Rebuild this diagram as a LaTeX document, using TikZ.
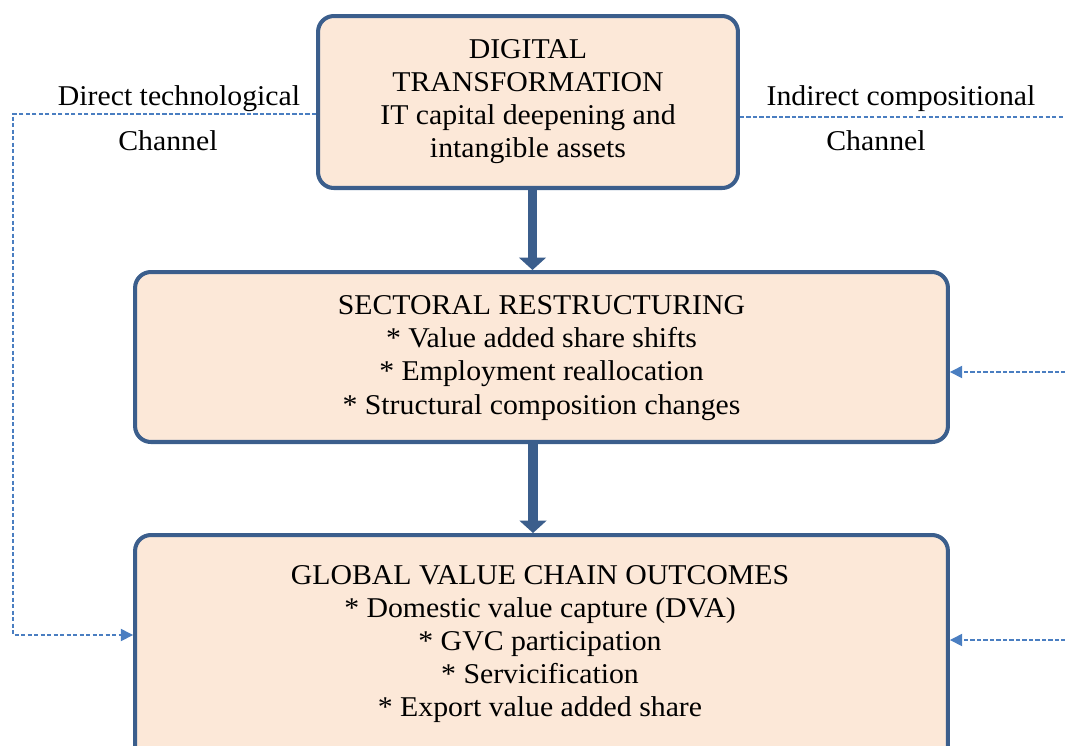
\documentclass[tikz,border=0pt]{standalone}
\usepackage{fontspec}
\setmainfont[FakeStretch=1.04]{Liberation Serif}
\usetikzlibrary{arrows.meta}
\definecolor{boxline}{RGB}{59,94,140}
\definecolor{boxfill}{RGB}{252,232,216}
\definecolor{chanblue}{RGB}{74,126,193}
\begin{document}
\begin{tikzpicture}[x=0.02cm, y=-0.02cm, every node/.style={font=\fontsize{16.3}{18.8}\selectfont},
  blk/.style={draw=boxline,fill=boxfill,line width=2.3pt,rounded corners=9pt,align=center,inner sep=0pt},
  flow/.style={draw=boxline,line width=5.4pt,-{Triangle[width=15pt,length=7pt]}},
  chan/.style={draw=chanblue,line width=0.8pt,dash pattern=on 2.4pt off 1.3pt}]
\useasboundingbox (0,0) rectangle (1065,745);
\clip (0,0) rectangle (1065,745);
% Boxes
\node[blk,minimum width=8.4cm,minimum height=3.44cm] (dt) at (528,102)
  {DIGITAL\\TRANSFORMATION\\IT capital deepening and\\intangible assets};
\node[blk,minimum width=16.26cm,minimum height=3.4cm,text depth=0.5ex] (sr) at (541.5,357)
  {SECTORAL RESTRUCTURING\\* Value added share shifts\\* Employment reallocation\\* Structural composition changes};
\node[blk,minimum width=16.26cm,minimum height=4.7cm] (gvc) at (541.5,652.5) {};
\node[align=center] (gvctxt) at (540,644)
  {GLOBAL VALUE CHAIN OUTCOMES\\* Domestic value capture (DVA)\\* GVC participation\\* Servicification\\* Export value added share};
% Main flow
\draw[flow] ([xshift=0.09cm]dt.south) -- ([xshift=0.09cm]dt.south |- sr.north);
\draw[flow] ([xshift=-0.17cm]sr.south) -- ([xshift=-0.17cm]sr.south |- gvc.north);
% Direct channel (left)
\node (dlab) at (179,99) {Direct technological};
\node (dch) at (168,141) {Channel};
\coordinate (ldown) at (13,635);
\draw[chan,-{Triangle[width=7pt,length=7pt]}] ([yshift=-0.24cm]dt.west) -| (ldown) -- (ldown -| gvc.west);
% Indirect channel (right)
\node (ilab) at (901,99) {Indirect compositional};
\node (ich) at (876,141) {Channel};
\coordinate (rmid) at (1085,372);
\coordinate (rlow) at (1085,640);
\draw[chan] ([yshift=-0.30cm]dt.east) -| (rlow);
\draw[chan,-{Triangle[width=7pt,length=7pt]}] (rmid) -- (rmid -| sr.east);
\draw[chan,-{Triangle[width=7pt,length=7pt]}] (rlow) -- (rlow -| gvc.east);
\end{tikzpicture}
\end{document}
